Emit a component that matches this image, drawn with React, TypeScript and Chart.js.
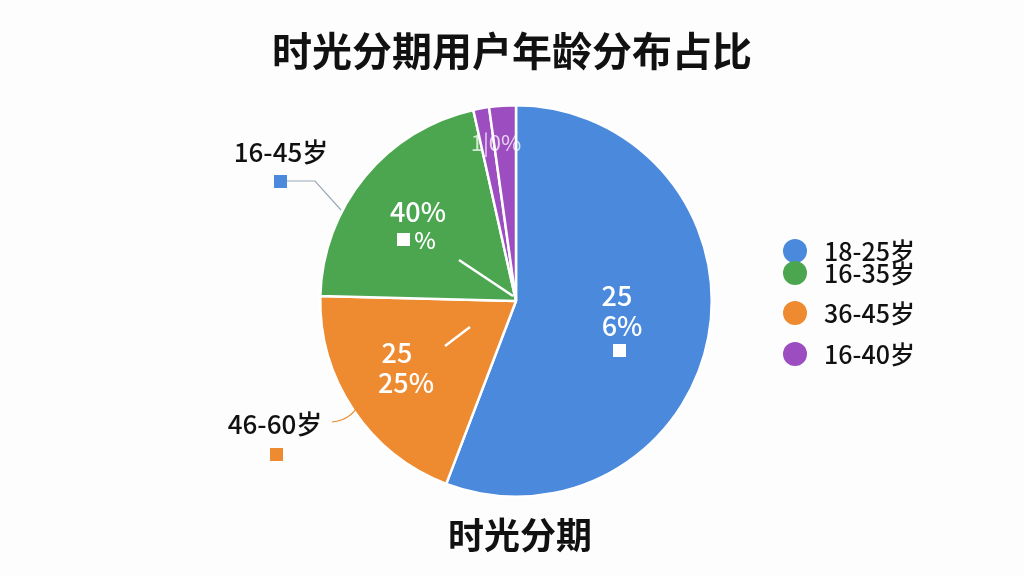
import { useEffect, useRef } from 'react';
import { Chart, registerables } from 'chart.js';

Chart.register(...registerables);

// slices, clockwise from 12 o'clock
const sliceLabels = ['18-25岁', '36-45岁', '16-35岁', '16-40岁', '16-40岁'];
const sliceValues = [55.8, 19.6, 21.1, 1.3, 2.2];
const sliceColors = ['#4a89dc', '#ee8a2f', '#4ca64f', '#9c4dc0', '#9c4dc0'];

// legend (as shown on the right)
const legendLabels = ['18-25岁', '16-35岁', '36-45岁', '16-40岁'];
const legendColors = ['#4a89dc', '#4ca64f', '#ee8a2f', '#9c4dc0'];

const title = '时光分期用户年龄分布占比';
const subtitle = '时光分期';
const FONT = '"Noto Sans CJK SC", "Noto Sans", sans-serif';

const overlay = {
  id: 'overlay',
  afterDraw(chart: Chart) {
    const ctx = chart.ctx;
    ctx.save();
    ctx.textAlign = 'center';
    ctx.textBaseline = 'middle';

    // title + bottom caption
    ctx.fillStyle = '#111';
    ctx.font = `bold 40px ${FONT}`;
    ctx.fillText(title, 512, 51);
    ctx.font = `bold 36px ${FONT}`;
    ctx.fillText(subtitle, 520, 535);

    // inside labels
    ctx.fillStyle = '#fff';
    ctx.font = `500 27px ${FONT}`;
    ctx.fillText('25', 617, 296);
    ctx.fillText('6%', 622, 326);
    ctx.fillRect(613, 344, 13, 13);
    ctx.fillText('40%', 418, 212);
    ctx.fillRect(397, 233, 13, 13);
    ctx.font = `500 23px ${FONT}`;
    ctx.fillText('%', 425, 240);
    ctx.font = `500 27px ${FONT}`;
    ctx.fillText('25', 397, 353);
    ctx.fillText('25%', 406, 383);
    ctx.globalAlpha = 0.75;
    ctx.font = `22px ${FONT}`;
    ctx.fillText('1|0%', 496, 143);
    ctx.globalAlpha = 1;

    ctx.strokeStyle = '#fff';
    ctx.lineWidth = 2.5;
    ctx.beginPath();
    ctx.moveTo(459, 260);
    ctx.lineTo(513, 296);
    ctx.moveTo(445, 346);
    ctx.lineTo(470, 327);
    ctx.stroke();

    // outside labels
    ctx.fillStyle = '#111';
    ctx.font = `500 26px ${FONT}`;
    ctx.fillText('16-45岁', 281, 152);
    ctx.fillText('46-60岁', 275, 424);
    ctx.fillStyle = '#4a89dc';
    ctx.fillRect(274, 175, 13, 13);
    ctx.fillStyle = '#ee8a2f';
    ctx.fillRect(270, 448, 13, 13);

    ctx.strokeStyle = '#9aaab8';
    ctx.lineWidth = 1.2;
    ctx.beginPath();
    ctx.moveTo(287, 181);
    ctx.lineTo(315, 181);
    ctx.lineTo(341, 210);
    ctx.stroke();

    ctx.strokeStyle = '#ee8a2f';
    ctx.beginPath();
    ctx.moveTo(332, 422);
    ctx.quadraticCurveTo(352, 420, 360, 402);
    ctx.stroke();

    // legend
    ctx.textAlign = 'left';
    ctx.font = `500 25px ${FONT}`;
    const ys = [251, 273, 313, 354];
    legendLabels.forEach((lab, i) => {
      ctx.fillStyle = legendColors[i];
      ctx.beginPath();
      ctx.arc(795, ys[i], 12, 0, Math.PI * 2);
      ctx.fill();
      ctx.fillStyle = '#111';
      ctx.fillText(lab, 824, ys[i]);
    });

    ctx.restore();
  },
};

export default function App() {
  const canvasRef = useRef<HTMLCanvasElement>(null);
  const chartRef = useRef<Chart | null>(null);

  useEffect(() => {
    document.body.style.margin = '0';
    if (!canvasRef.current) return;
    const ctx = canvasRef.current.getContext('2d');
    if (!ctx) return;

    chartRef.current?.destroy();
    chartRef.current = new Chart(ctx, {
      type: 'pie',
      data: {
        labels: sliceLabels,
        datasets: [
          {
            data: sliceValues,
            backgroundColor: sliceColors,
            borderColor: '#fff',
            borderWidth: 2.5,
          },
        ],
      },
      options: {
        responsive: false,
        animation: false,
        layout: { padding: { left: 317, right: 309, top: 104, bottom: 78 } },
        plugins: {
          legend: { display: false },
          tooltip: { enabled: false },
        },
      },
      plugins: [overlay],
    });

    return () => {
      chartRef.current?.destroy();
    };
  }, []);

  return (
    <div style={{ width: 1024, height: 576, background: '#fdfdfd' }}>
      <canvas ref={canvasRef} width={1024} height={576} />
    </div>
  );
}
